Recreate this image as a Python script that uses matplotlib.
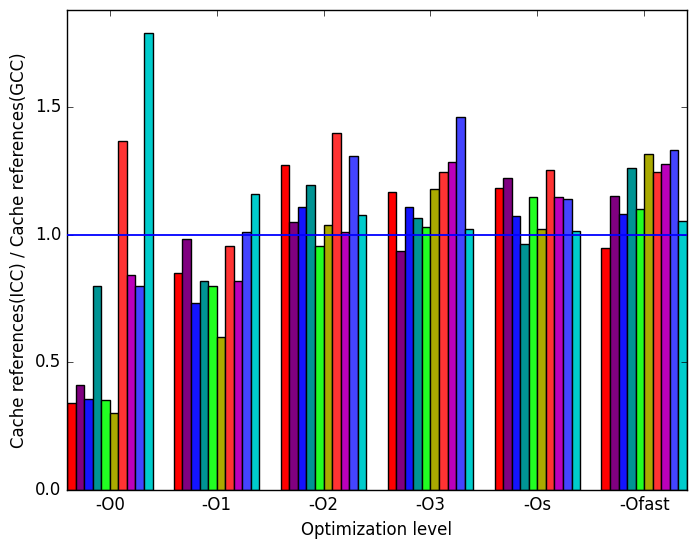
"""Cache references ratio ICC / GCC per optimization level."""

import matplotlib
matplotlib.use("Agg")
import matplotlib.pyplot as plt
import numpy as np

plt.style.use("classic")

levels = ["-O0", "-O1", "-O2", "-O3", "-Os", "-Ofast"]

# one list per benchmark (10 bars per group)
bench_0 = [0.339, 0.851, 1.272, 1.167, 1.184, 0.949]
bench_1 = [0.413, 0.984, 1.050, 0.936, 1.223, 1.152]
bench_2 = [0.356, 0.734, 1.108, 1.108, 1.074, 1.082]
bench_3 = [0.798, 0.820, 1.194, 1.066, 0.965, 1.262]
bench_4 = [0.351, 0.798, 0.956, 1.030, 1.148, 1.101]
bench_5 = [0.300, 0.601, 1.038, 1.178, 1.023, 1.314]
bench_6 = [1.368, 0.957, 1.397, 1.246, 1.254, 1.246]
bench_7 = [0.840, 0.820, 1.010, 1.285, 1.148, 1.277]
bench_8 = [0.798, 1.009, 1.307, 1.460, 1.140, 1.332]
bench_9 = [1.790, 1.158, 1.077, 1.022, 1.015, 1.054]

series = [bench_0, bench_1, bench_2, bench_3, bench_4,
          bench_5, bench_6, bench_7, bench_8, bench_9]
colors = ["#ff0000", "#800080", "#1414ff", "#009494", "#22ff22",
          "#aaaa00", "#ff3333", "#bb00bb", "#4444ff", "#00cccc"]

fig = plt.figure(figsize=(6.96, 5.48), dpi=100)
ax = fig.add_axes([0.0963, 0.1058, 0.8907, 0.876])

x = np.arange(len(levels))
width = 0.08
for i, (vals, c) in enumerate(zip(series, colors)):
    ax.bar(x - 0.4 + i * width, vals, width, align="edge",
           color=c, edgecolor="black", linewidth=1)

ax.axhline(1.0, color="#0000ff", lw=1.3, zorder=3)

ax.set_xticks(x)
ax.set_xticklabels(levels)
ax.set_xlim(-0.4, len(levels) - 0.6)
ax.set_ylim(0, max(max(s) for s in series) * 1.05)
ax.set_yticks([0.0, 0.5, 1.0, 1.5])
ax.set_xlabel("Optimization level")
ax.set_ylabel("Cache references(ICC) / Cache references(GCC)")

fig.savefig("out.png", dpi=100)
